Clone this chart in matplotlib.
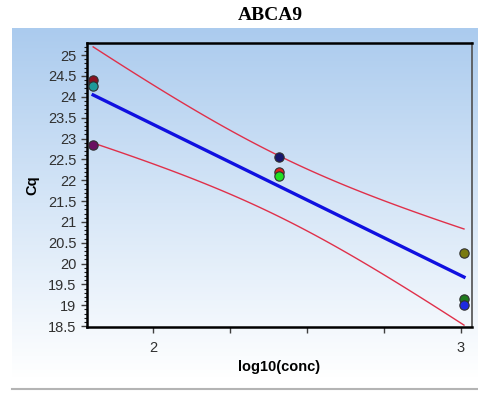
import numpy as np
import matplotlib
matplotlib.use("Agg")
import matplotlib.pyplot as plt
from matplotlib.colors import LinearSegmentedColormap

# standard curve replicates: log10 concentration vs Cq
log_conc = [1.806, 1.806, 1.806, 2.408, 2.408, 2.408, 3.010, 3.010, 3.010]
cq = [24.40, 24.25, 22.85, 22.55, 22.20, 22.10, 20.25, 19.15, 19.00]
well_colors = ['#8a1020', '#1e9a9a', '#6a1060', '#16166e', '#e02020',
               '#22e022', '#7a7a10', '#1e7a1e', '#1e2ae0']

x = np.array(log_conc)
y = np.array(cq)
slope, icpt = np.polyfit(x, y, 1)
resid = y - (slope * x + icpt)
s = np.sqrt(np.sum(resid ** 2) / (len(x) - 2))
sxx = np.sum((x - x.mean()) ** 2)
xs = np.linspace(x.min(), x.max(), 120)
fit = slope * xs + icpt
half = 3.182 * s * np.sqrt(1.0 / len(x) + (xs - x.mean()) ** 2 / sxx)

fig = plt.figure(figsize=(4.78, 3.94), dpi=100)
plt.rcParams['font.family'] = ['Liberation Sans', 'DejaVu Sans']

# blue-to-white background panel
bg = fig.add_axes([12 / 478, 1 - 378 / 394, 466 / 478, 350 / 394], zorder=0)
cmap = LinearSegmentedColormap.from_list('bg', ['#abcbee', '#d6e6f7', '#ffffff'])
grad = np.linspace(0, 1, 256).reshape(-1, 1)
bg.imshow(grad, aspect='auto', cmap=cmap, extent=[0, 1, 0, 1])
bg.axis('off')
fig.add_artist(plt.Line2D([12 / 478, 1], [1 - 389 / 394] * 2, color='#b4b4b4', lw=1.5))

ax = fig.add_axes([87 / 478, 67 / 394, 385 / 478, 284 / 394], zorder=1)
ax.patch.set_alpha(0)

ax.plot(xs, fit + half, color='#e0304a', lw=1.0)
ax.plot(xs, fit - half, color='#e0304a', lw=1.0)
ax.plot(xs, fit, color='#1010e0', lw=2.4)
for xi, yi, c in zip(log_conc, cq, well_colors):
    ax.scatter(xi, yi, s=45, color=c, edgecolors='#303030', linewidths=0.8, zorder=3)

ax.set_xlim(1.786, 3.036)
ax.set_ylim(18.48, 25.29)
ax.set_xticks([2, 3])
ax.set_xticks([2.25, 2.5, 2.75], minor=True)
ax.set_yticks(np.arange(18.5, 25.01, 0.5))
ax.set_yticklabels(['%g' % v for v in np.arange(18.5, 25.01, 0.5)])
ax.set_yticks(np.arange(18.5, 25.3, 0.1), minor=True)
ax.tick_params(axis='both', which='major', labelsize=10.5, length=4, width=1,
               color='#404040', labelcolor='#303030')
ax.tick_params(axis='x', which='minor', length=4, width=1, color='#404040')
ax.tick_params(axis='y', which='minor', length=2, width=0.8, color='#202020')
ax.tick_params(axis='x', pad=6)

for side in ['left', 'bottom', 'top']:
    ax.spines[side].set_linewidth(1.8)
    ax.spines[side].set_color('black')
ax.spines['right'].set_linewidth(1.2)
ax.spines['right'].set_color('#505050')

ax.set_xlabel('log10(conc)', fontsize=10.5, fontweight='bold', labelpad=4)
ax.set_ylabel('Cq', fontsize=10.5, fontweight='bold', labelpad=6)

fig.text(0.565, 1 - 15 / 394, 'ABCA9', ha='center', va='center',
         family='Liberation Serif', fontsize=14, fontweight='bold')

fig.savefig('out.png', dpi=100)
